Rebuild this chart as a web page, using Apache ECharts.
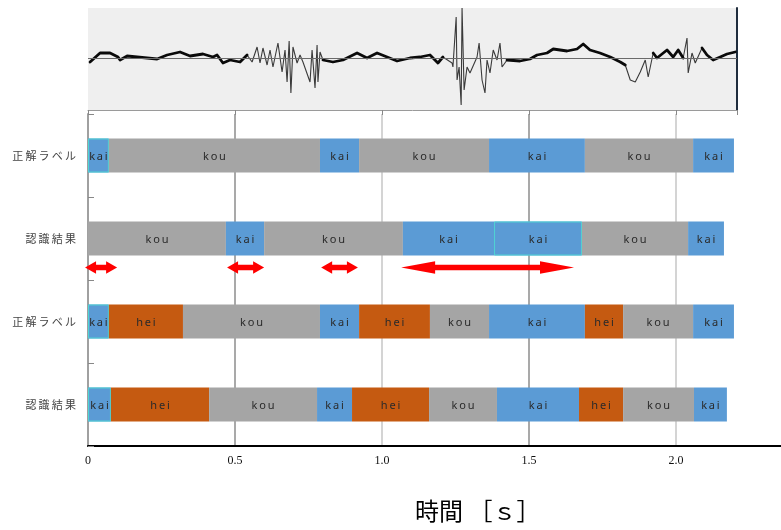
<!DOCTYPE html>
<html><head><meta charset="utf-8">
<script src="https://cdn.jsdelivr.net/npm/echarts@6/dist/echarts.min.js"></script>
<style>html,body{margin:0;padding:0;background:#fff}#c{width:781px;height:530px}</style>
</head><body><div id="c"></div>
<script>
// ---- data ----
const rowLabels = ['正解ラベル', '認識結果', '正解ラベル', '認識結果'];
const row0Bounds = [0, 0.071, 0.789, 0.922, 1.364, 1.690, 2.058, 2.197];
const row0Names  = ['kai', 'kou', 'kai', 'kou', 'kai', 'kou', 'kai'];
const row1Bounds = [0, 0.469, 0.599, 1.071, 1.381, 1.680, 2.041, 2.163];
const row1Names  = ['kou', 'kai', 'kou', 'kai', 'kai', 'kou', 'kai'];
const row2Bounds = [0, 0.071, 0.323, 0.789, 0.922, 1.163, 1.364, 1.690, 1.820, 2.058, 2.197];
const row2Names  = ['kai', 'hei', 'kou', 'kai', 'hei', 'kou', 'kai', 'hei', 'kou', 'kai'];
const row3Bounds = [0, 0.078, 0.412, 0.779, 0.898, 1.160, 1.391, 1.670, 1.820, 2.061, 2.173];
const row3Names  = ['kai', 'hei', 'kou', 'kai', 'hei', 'kou', 'kai', 'hei', 'kou', 'kai'];
const outlinedSegs = [[0, 0], [1, 4], [2, 0], [3, 0]];
const arrowSpans = [[-0.010, 0.099], [0.473, 0.599], [0.793, 0.918], [1.065, 1.653]];
const tickLabels = ['0', '0.5', '1.0', '1.5', '2.0'];
const axisTitle = '時間 ［ｓ］';
const waveT = [0.007,0.041,0.075,0.102,0.109,0.133,0.201,0.235,0.269,0.313,0.347,0.391,0.425,0.439,0.459,0.483,0.517,0.541,0.558,0.575,0.585,0.595,0.609,0.619,0.629,0.646,0.660,0.670,0.677,0.684,0.690,0.697,0.711,0.721,0.731,0.755,0.762,0.772,0.779,0.782,0.789,0.799,0.833,0.867,0.915,0.949,0.983,1.017,1.051,1.095,1.129,1.163,1.190,1.207,1.238,1.241,1.252,1.255,1.262,1.269,1.272,1.279,1.289,1.299,1.323,1.330,1.340,1.350,1.357,1.367,1.378,1.391,1.401,1.408,1.425,1.469,1.503,1.527,1.561,1.582,1.629,1.663,1.684,1.707,1.741,1.776,1.810,1.827,1.844,1.861,1.878,1.895,1.905,1.922,1.935,1.969,1.990,2.007,2.024,2.037,2.041,2.054,2.065,2.088,2.105,2.126,2.150,2.173,2.201];
const waveA = [-0.08,0.10,0.10,0.02,-0.04,0.04,0.00,-0.02,0.06,0.12,0.04,0.08,0.02,0.06,-0.10,-0.04,-0.08,0.06,-0.08,0.22,-0.10,0.20,-0.14,0.16,-0.18,0.30,-0.28,0.16,-0.48,0.34,-0.70,0.22,-0.10,0.06,-0.08,-0.48,0.16,-0.60,0.26,-0.48,0.12,-0.04,-0.08,-0.04,0.10,0.00,0.10,0.02,-0.06,0.00,0.02,0.06,-0.10,0.02,-0.10,-0.18,0.82,-0.44,-0.18,-0.94,1.00,-0.64,-0.18,-0.30,0.02,0.30,-0.44,-0.70,-0.04,-0.30,0.16,-0.04,0.30,-0.18,-0.04,-0.06,-0.02,0.06,0.10,0.18,0.14,0.18,0.28,0.16,0.10,0.02,-0.08,-0.14,-0.44,-0.48,-0.28,-0.04,-0.38,0.10,0.00,0.16,0.02,0.16,0.00,0.40,-0.30,0.10,-0.10,0.20,0.06,-0.04,0.02,0.08,0.12];
// time spans where the trace is drawn as a thin line (noisy bursts)
const burstSpans = [[0.548, 0.795], [1.236, 1.415], [1.836, 1.912], [2.030, 2.070]];

// ---- build ----
const palette = { kai: '#5b9bd5', kou: '#a5a5a5', hei: '#c55a11' };
const rows = [[row0Bounds, row0Names], [row1Bounds, row1Names], [row2Bounds, row2Names], [row3Bounds, row3Names]];
const segs = [];
rows.forEach(([b, n], r) => {
  n.forEach((name, i) => {
    segs.push({ row: r, idx: i, start: b[i], end: b[i + 1], name: name,
      outlined: outlinedSegs.some(o => o[0] === r && o[1] === i) });
  });
});
const spaced = s => s.split('').join('\u2009');
const inBurst = t => burstSpans.some(s => t > s[0] && t < s[1]);

function renderSeg(params, api) {
  const seg = segs[params.dataIndex];
  const p0 = api.coord([api.value(1), api.value(0)]);
  const p1 = api.coord([api.value(2), api.value(0)]);
  const h = api.size([0, 1])[1] * 0.41;
  const shape = { x: p0[0], y: p0[1] - h / 2, width: p1[0] - p0[0], height: h };
  const children = [{ type: 'rect', shape: shape, style: { fill: palette[seg.name] } }];
  if (seg.outlined) {
    children.push({ type: 'rect', shape: { x: shape.x + 0.5, y: shape.y + 0.5, width: shape.width - 1, height: shape.height - 1 },
      style: { fill: null, stroke: '#4fd3d3', lineWidth: 1 } });
  }
  children.push({ type: 'text', style: { text: spaced(seg.name), x: (p0[0] + p1[0]) / 2, y: p0[1] + 1,
    align: 'center', verticalAlign: 'middle', fill: '#2a2a2a', font: '11px "Noto Sans"' } });
  return { type: 'group', children: children };
}

function renderArrow(params, api) {
  const a = api.coord([api.value(0), 1]);
  const b = api.coord([api.value(1), 1]);
  const band = api.size([0, 1])[1];
  const yc = a[1] + band * 0.35;
  const xa = a[0], xb = b[0];
  const len = xb - xa;
  const hl = len > 100 ? 34 : 11, hh = 6.2, sh = 2.7;
  return { type: 'polygon', shape: { points: [
    [xa, yc], [xa + hl, yc - hh], [xa + hl, yc - sh], [xb - hl, yc - sh], [xb - hl, yc - hh],
    [xb, yc], [xb - hl, yc + hh], [xb - hl, yc + sh], [xa + hl, yc + sh], [xa + hl, yc + hh]] },
    style: { fill: '#ff0000' } };
}

const chart = echarts.init(document.getElementById('c'), null, { renderer: 'canvas' });
chart.setOption({
  animation: false,
  backgroundColor: '#ffffff',
  grid: [
    { left: 88, right: 0, top: 114, bottom: 84, outerBoundsMode: 'none', containLabel: false },
    { left: 88, right: 44, top: 8, height: 102, show: true, backgroundColor: '#efefef', borderWidth: 0, outerBoundsMode: 'none', containLabel: false }
  ],
  xAxis: [
    { gridIndex: 0, type: 'value', min: 0, max: 2.357, interval: 0.5,
      axisLine: { show: true, onZero: false, lineStyle: { color: '#000', width: 2 } },
      axisTick: { show: false },
      axisLabel: { margin: 9, color: '#111', fontFamily: 'Liberation Serif', fontSize: 12,
        formatter: v => { const k = Math.round(v / 0.5); return Math.abs(v - k * 0.5) < 1e-6 && tickLabels[k] !== undefined ? tickLabels[k] : ''; } },
      splitLine: { show: true, showMinLine: false, showMaxLine: false, lineStyle: { color: ['#8c8c8c', '#c6c6c6'], width: 1.5 } } },
    { gridIndex: 1, type: 'value', min: 0, max: 2.207, interval: 0.5,
      axisLine: { show: true, onZero: false, lineStyle: { color: '#9a9a9a', width: 1 } },
      axisTick: { show: true, length: 5, lineStyle: { color: '#888' } },
      axisLabel: { show: false }, splitLine: { show: false } }
  ],
  yAxis: [
    { gridIndex: 0, type: 'category', inverse: true, data: ['0', '1', '2', '3'],
      axisLine: { show: true, onZero: false, lineStyle: { color: '#a0a0a0', width: 2 } },
      axisTick: { show: true, inside: true, length: 6, lineStyle: { color: '#888' } },
      axisLabel: { margin: 12, color: '#444', fontFamily: 'Noto Sans CJK JP', fontSize: 11,
        formatter: (v, i) => spaced(rowLabels[i]) },
      splitLine: { show: false } },
    { gridIndex: 1, type: 'value', position: 'right', min: -1.04, max: 1.0,
      axisLine: { show: true, onZero: false, lineStyle: { color: '#1f2d3d', width: 2 } },
      axisTick: { show: false }, axisLabel: { show: false }, splitLine: { show: false } }
  ],
  series: [
    { type: 'custom', xAxisIndex: 0, yAxisIndex: 0, renderItem: renderSeg,
      encode: { x: [1, 2], y: 0 },
      data: segs.map(s => [s.row, s.start, s.end]) },
    { type: 'custom', xAxisIndex: 0, yAxisIndex: 0, renderItem: renderArrow, clip: false,
      encode: { x: [0, 1] },
      data: arrowSpans.map(s => [s[0], s[1]]) },
    { type: 'line', xAxisIndex: 1, yAxisIndex: 1, symbol: 'none', silent: true, z: 2,
      lineStyle: { color: '#3a3a3a', width: 1.1 },
      data: waveT.map((t, i) => [t, waveA[i]]),
      markLine: { silent: true, symbol: 'none', label: { show: false },
        lineStyle: { color: '#6a6a6a', width: 1, type: 'solid' }, data: [{ yAxis: 0 }] } },
    { type: 'line', xAxisIndex: 1, yAxisIndex: 1, symbol: 'none', silent: true, z: 3,
      connectNulls: false,
      lineStyle: { color: '#0a0a0a', width: 2.8, join: 'round', cap: 'round' },
      data: waveT.map((t, i) => inBurst(t) ? [t, null] : [t, waveA[i]]) }
  ],
  graphic: [
    { type: 'text', left: 415, top: 499, style: { text: axisTitle, fill: '#000',
      font: '24px "Noto Sans CJK JP"' } }
  ]
});
</script>
</body></html>
